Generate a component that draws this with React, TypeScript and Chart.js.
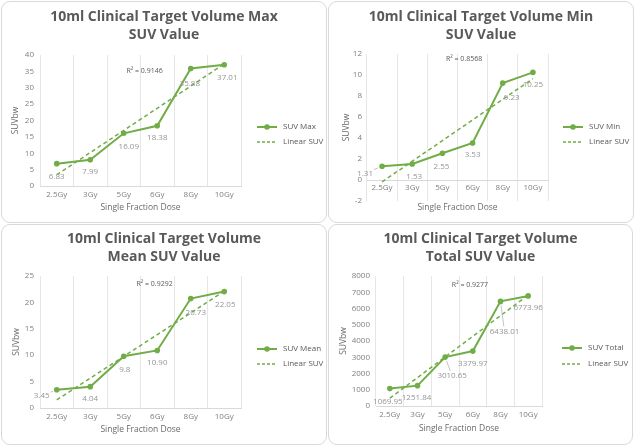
import React, { useEffect, useRef } from 'react';
import { Chart, registerables } from 'chart.js';

Chart.register(...registerables);

// ---------------- data ----------------
const categories = ['2.5Gy', '3Gy', '5Gy', '6Gy', '8Gy', '10Gy'];

const maxValues = [6.83, 7.99, 16.09, 18.38, 35.88, 37.01];
const maxLabels = ['6.83', '7.99', '16.09', '18.38', '35.88', '37.01'];
const maxTrend = [3.44, 37.28];
const maxR2 = 'R² = 0.9146';

const minValues = [1.31, 1.53, 2.55, 3.53, 9.23, 10.25];
const minLabels = ['1.31', '1.53', '2.55', '3.53', '9.23', '10.25'];
const minTrend = [-0.18, 9.65];
const minR2 = 'R² = 0.8568';

const meanValues = [3.45, 4.04, 9.8, 10.9, 20.73, 22.05];
const meanLabels = ['3.45', '4.04', '9.8', '10.90', '20.73', '22.05'];
const meanTrend = [1.53, 22.13];
const meanR2 = 'R² = 0.9292';

const totalValues = [1069.95, 1251.84, 3010.65, 3379.97, 6438.01, 6773.96];
const totalLabels = ['1069.95', '1251.84', '3010.65', '3379.97', '6438.01', '6773.96'];
const totalTrend = [479.2, 6828.9];
const totalR2 = 'R² = 0.9277';

const maxAxis = [0, 40, 5];
const minAxis = [-2, 12, 2];
const meanAxis = [0, 25, 5];
const totalAxis = [0, 8000, 1000];

const trendName = 'Linear SUV';
const xTitle = 'Single Fraction Dose';
const yTitle = 'SUVbw';

// ---------------- styles ----------------
const GREEN = '#70AD47';
const FONT = "'Open Sans', sans-serif";

type Cfg = {
  key: string;
  box: { left: number; top: number; w: number; h: number };
  title: string[];
  series: string;
  values: number[];
  labels: string[];
  trend: number[];
  r2: string;
  axis: number[];
  chartLeft: number;
  chartRight: number;
  xHeight: number;
  xAtZero: boolean;
  padBottom: number;
  titleTop: number;
  titleBottom: number;
  xTitlePad: number;
  yTitlePad: number;
  xTickPad: number;
  yTickPad: number;
  legendDx: number;
  legendRows: number[];
  r2Pos: number[];
  labelOffsets: [number, number, boolean][];
};

const configs: Cfg[] = [
  {
    key: 'max',
    box: { left: 1, top: 1, w: 326, h: 222 },
    title: ['10ml Clinical Target Volume Max', 'SUV Value'],
    series: 'SUV Max',
    values: maxValues,
    labels: maxLabels,
    trend: maxTrend,
    r2: maxR2,
    axis: maxAxis,
    chartLeft: 38,
    chartRight: 239,
    xHeight: 36,
    xAtZero: false,
    padBottom: 0,
    titleTop: 6,
    titleBottom: 11,
    xTitlePad: 8.9,
    yTitlePad: 8.9,
    xTickPad: 4,
    yTickPad: 6,
    legendDx: 16,
    legendRows: [125, 140],
    r2Pos: [0.52, 0.12],
    labelOffsets: [
      [0, 13, false],
      [0, 12, false],
      [5, 13, false],
      [0, 12, false],
      [-1, 15, false],
      [3, 13, false],
    ],
  },
  {
    key: 'min',
    box: { left: 328, top: 1, w: 306, h: 222 },
    title: ['10ml Clinical Target Volume Min', 'SUV Value'],
    series: 'SUV Min',
    values: minValues,
    labels: minLabels,
    trend: minTrend,
    r2: minR2,
    axis: minAxis,
    chartLeft: 38,
    chartRight: 219,
    xHeight: 36,
    xAtZero: true,
    padBottom: 21,
    titleTop: 6,
    titleBottom: 10,
    xTitlePad: 3.2,
    yTitlePad: 12.9,
    xTickPad: 3,
    yTickPad: 5,
    legendDx: 15,
    legendRows: [125, 140],
    r2Pos: [0.536, 0.034],
    labelOffsets: [
      [-17, 7, true],
      [2, 13, false],
      [-1, 13, false],
      [0, 12, false],
      [9, 15, false],
      [0, 12, false],
    ],
  },
  {
    key: 'mean',
    box: { left: 1, top: 224, w: 326, h: 221 },
    title: ['10ml Clinical Target Volume', 'Mean SUV Value'],
    series: 'SUV Mean',
    values: meanValues,
    labels: meanLabels,
    trend: meanTrend,
    r2: meanR2,
    axis: meanAxis,
    chartLeft: 38,
    chartRight: 239,
    xHeight: 36,
    xAtZero: false,
    padBottom: 0,
    titleTop: 5,
    titleBottom: 10,
    xTitlePad: 8.9,
    yTitlePad: 9.6,
    xTickPad: 4,
    yTickPad: 6,
    legendDx: 16,
    legendRows: [124, 139],
    r2Pos: [0.57, 0.06],
    labelOffsets: [
      [-15, 6, true],
      [0, 12, false],
      [1, 13, false],
      [0, 12, false],
      [5, 14, false],
      [1, 13, false],
    ],
  },
  {
    key: 'total',
    box: { left: 328, top: 224, w: 305, h: 221 },
    title: ['10ml Clinical Target Volume', 'Total SUV Value'],
    series: 'SUV Total',
    values: totalValues,
    labels: totalLabels,
    trend: totalTrend,
    r2: totalR2,
    axis: totalAxis,
    chartLeft: 47,
    chartRight: 213,
    xHeight: 38,
    xAtZero: false,
    padBottom: 0,
    titleTop: 5,
    titleBottom: 10,
    xTitlePad: 9.9,
    yTitlePad: 9.9,
    xTickPad: 4,
    yTickPad: 6,
    legendDx: 20,
    legendRows: [123, 139],
    r2Pos: [0.566, 0.07],
    labelOffsets: [
      [-2, 13, false],
      [-1, 12, false],
      [7, 19, true],
      [0, 13, false],
      [4, 30, true],
      [0, 12, false],
    ],
  },
];

// ---------------- plugins ----------------
const extrasPlugin = {
  id: 'extras',
  afterDatasetsDraw(chart: any, _args: any, opts: any) {
    const cfg: Cfg = opts.cfg;
    if (!cfg) return;
    const { ctx, chartArea } = chart;
    const meta = chart.getDatasetMeta(0);
    ctx.save();
    // data labels
    ctx.font = `8px ${FONT}`;
    ctx.fillStyle = '#959595';
    ctx.textAlign = 'center';
    ctx.textBaseline = 'middle';
    meta.data.forEach((pt: any, i: number) => {
      const off = cfg.labelOffsets[i];
      const lx = pt.x + off[0];
      const ly = pt.y + off[1];
      const text = cfg.labels[i];
      ctx.fillText(text, lx, ly);
      if (off[2]) {
        const w = ctx.measureText(text).width;
        const hw = w / 2 + 1;
        const hh = 5;
        const vx = pt.x - lx;
        const vy = pt.y - ly;
        const len = Math.hypot(vx, vy);
        const t = Math.min(vx !== 0 ? hw / Math.abs(vx) : Infinity, vy !== 0 ? hh / Math.abs(vy) : Infinity);
        const sx = lx + vx * t;
        const sy = ly + vy * t;
        const ex = pt.x - (vx / len) * 4;
        const ey = pt.y - (vy / len) * 4;
        ctx.save();
        ctx.strokeStyle = '#b0b0b0';
        ctx.lineWidth = 0.75;
        ctx.beginPath();
        ctx.moveTo(sx, sy);
        ctx.lineTo(ex, ey);
        ctx.stroke();
        ctx.restore();
      }
    });
    // R² text
    ctx.font = `7px ${FONT}`;
    ctx.fillStyle = '#595959';
    const rx = chartArea.left + cfg.r2Pos[0] * (chartArea.right - chartArea.left);
    const ry = chartArea.top + cfg.r2Pos[1] * (chartArea.bottom - chartArea.top);
    ctx.fillText(cfg.r2, rx, ry);
    // legend
    const x0 = chartArea.right + cfg.legendDx;
    const names = [cfg.series, trendName];
    names.forEach((name, i) => {
      const y = cfg.legendRows[i];
      ctx.save();
      ctx.strokeStyle = GREEN;
      if (i === 0) {
        ctx.lineWidth = 2;
        ctx.setLineDash([]);
      } else {
        ctx.lineWidth = 1.5;
        ctx.setLineDash([3, 2]);
      }
      ctx.beginPath();
      ctx.moveTo(x0, y);
      ctx.lineTo(x0 + 20, y);
      ctx.stroke();
      if (i === 0) {
        ctx.fillStyle = GREEN;
        ctx.beginPath();
        ctx.arc(x0 + 10, y, 2.8, 0, Math.PI * 2);
        ctx.fill();
      }
      ctx.restore();
      ctx.font = `8px ${FONT}`;
      ctx.fillStyle = '#595959';
      ctx.textAlign = 'left';
      ctx.fillText(name, x0 + 26, y);
    });
    ctx.restore();
  },
};

Chart.register(extrasPlugin);

function Panel({ cfg }: { cfg: Cfg }) {
  const ref = useRef<HTMLCanvasElement>(null);
  const cw = cfg.box.w - 2;
  const ch = cfg.box.h - 2;
  useEffect(() => {
    if (!ref.current) return;
    const [ymin, ymax, ystep] = cfg.axis;
    const trendData: (number | null)[] = categories.map(() => null);
    trendData[0] = cfg.trend[0];
    trendData[categories.length - 1] = cfg.trend[1];
    const chart = new Chart(ref.current, {
      type: 'line',
      data: {
        labels: categories,
        datasets: [
          {
            label: cfg.series,
            data: cfg.values,
            borderColor: GREEN,
            backgroundColor: GREEN,
            borderWidth: 2,
            pointRadius: 2.8,
            pointBackgroundColor: GREEN,
            pointBorderColor: GREEN,
            pointBorderWidth: 0,
            tension: 0,
            fill: false,
          },
          {
            label: trendName,
            data: trendData,
            spanGaps: true,
            borderColor: GREEN,
            borderDash: [4, 3],
            borderWidth: 1.5,
            pointRadius: 0,
            fill: false,
          },
        ],
      },
      options: {
        responsive: false,
        animation: false,
        events: [],
        layout: { padding: { left: 0, right: 0, top: 0, bottom: cfg.padBottom } },
        plugins: {
          legend: { display: false },
          tooltip: { enabled: false },
          title: {
            display: true,
            text: cfg.title,
            color: '#595959',
            font: { family: FONT, size: 14, weight: 'bold', lineHeight: 18 / 14 },
            padding: { top: cfg.titleTop, bottom: cfg.titleBottom },
          },
          extras: { cfg },
        } as any,
        scales: {
          x: {
            type: 'category',
            offset: true,
            position: (cfg.xAtZero ? { y: 0 } : 'bottom') as any,
            grid: { display: true, offset: true, color: '#e6e6e6', drawTicks: false, lineWidth: 1 },
            border: { display: true, color: '#d9d9d9', width: 1 },
            ticks: {
              color: '#808080',
              font: { family: FONT, size: 8 },
              padding: cfg.xTickPad,
              maxRotation: 0,
              autoSkip: false,
            },
            title: {
              display: true,
              text: xTitle,
              color: '#6b6b6b',
              font: { family: FONT, size: 8.5 },
              padding: { top: 0, bottom: cfg.xTitlePad },
            },
            afterFit: (s: any) => {
              s.height = cfg.xHeight;
            },
          },
          y: {
            type: 'linear',
            position: 'left',
            min: ymin,
            max: ymax,
            grid: { display: false, drawTicks: false },
            border: { display: false },
            ticks: {
              stepSize: ystep,
              color: '#808080',
              font: { family: FONT, size: 8 },
              padding: cfg.yTickPad,
              callback: (v: any) => String(v),
            },
            title: {
              display: true,
              text: yTitle,
              color: '#6b6b6b',
              font: { family: FONT, size: 8.5 },
              padding: { top: cfg.yTitlePad, bottom: 0 },
            },
            afterFit: (s: any) => {
              s.width = cfg.chartLeft;
            },
          },
          pad: {
            type: 'linear',
            position: 'right',
            display: true,
            grid: { display: false, drawTicks: false },
            border: { display: false },
            ticks: { display: false },
            afterFit: (s: any) => {
              s.width = cw - cfg.chartRight;
            },
          },
        } as any,
      },
    });
    return () => chart.destroy();
  }, []);
  return (
    <div
      style={{
        position: 'absolute',
        left: cfg.box.left,
        top: cfg.box.top,
        width: cfg.box.w,
        height: cfg.box.h,
        boxSizing: 'border-box',
        border: '1px solid #d9d9d9',
        borderRadius: 9,
        background: '#ffffff',
        overflow: 'hidden',
      }}
    >
      <canvas ref={ref} width={cw} height={ch} style={{ display: 'block', width: cw, height: ch }} />
    </div>
  );
}

export default function App() {
  return (
    <div
      style={{
        position: 'fixed',
        left: 0,
        top: 0,
        width: 635,
        height: 447,
        background: '#ffffff',
        overflow: 'hidden',
      }}
    >
      {configs.map((c) => (
        <Panel key={c.key} cfg={c} />
      ))}
    </div>
  );
}
